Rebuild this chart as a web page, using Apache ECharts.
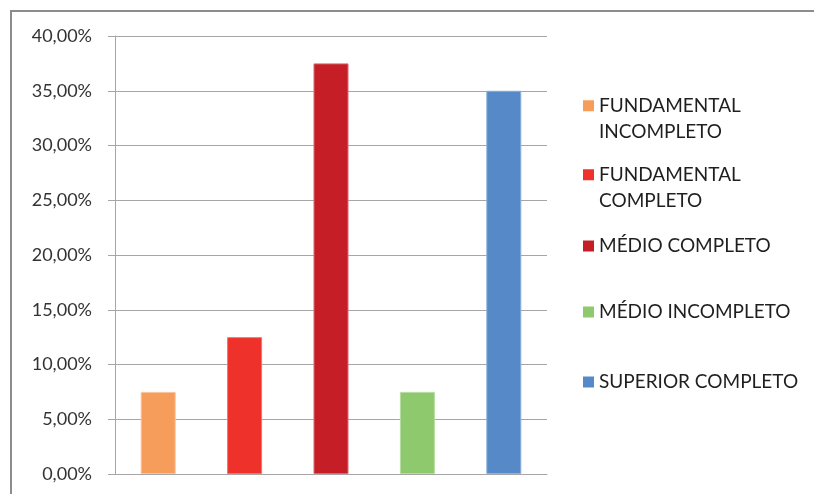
<!DOCTYPE html>
<html>
<head>
<meta charset="utf-8">
<script src="https://cdn.jsdelivr.net/npm/echarts@6/dist/echarts.min.js"></script>
<style>
  html, body { margin: 0; padding: 0; background: #fff; overflow: hidden; }
  #chart { width: 814px; height: 494px; }
</style>
</head>
<body>
<div id="chart"></div>
<script>
// categories / series
const categories = ['FUNDAMENTAL\nINCOMPLETO', 'FUNDAMENTAL\nCOMPLETO', 'MÉDIO COMPLETO', 'MÉDIO INCOMPLETO', 'SUPERIOR COMPLETO'];
const values = [7.5, 12.5, 37.5, 7.5, 35];
const colors = ['#F79D5B', '#EF312B', '#C51E26', '#8FC96E', '#5589C8'];
const borders = ['#FBC39B', '#F4726E', '#DA6A70', '#B7DCA2', '#8FB1DB'];
const legendTops = [88, 157, 228, 294, 364];

const chart = echarts.init(document.getElementById('chart'), undefined, { renderer: 'canvas' });

// square at top of a tall transparent box, so it lines up with the first text line
const topSquare = 'path://M0,0h10v10h-10z M0,34h0.01v0.01h-0.01z';

const series = categories.map((name, i) => ({
  name,
  type: 'bar',
  stack: 'all',
  barWidth: 35,
  itemStyle: { color: colors[i], borderColor: borders[i], borderWidth: 1 },
  data: categories.map((_, j) => (j === i ? values[i] : '-')),
}));

const legends = categories.map((name, i) => {
  const twoLines = name.indexOf('\n') > -1;
  return {
    data: [name],
    left: 578,
    top: legendTops[i],
    orient: 'vertical',
    icon: twoLines ? topSquare : 'rect',
    itemWidth: 11,
    itemHeight: twoLines ? 38 : 11,
    itemGap: 0,
    selectedMode: false,
    itemStyle: { borderWidth: 0 },
    textStyle: {
      fontFamily: 'Lato',
      fontSize: 19,
      color: '#1f1f1f',
      lineHeight: 26,
    },
  };
});

// chart-area frame: only the top and left edges are inside the picture
const frameStyle = { stroke: '#8c8c8c', lineWidth: 2 };

chart.setOption({
  animation: false,
  color: colors,
  graphic: [
    { type: 'line', shape: { x1: 11, y1: 10, x2: 11, y2: 520 }, style: frameStyle },
    { type: 'line', shape: { x1: 10, y1: 11, x2: 900, y2: 11 }, style: frameStyle },
  ],
  legend: legends,
  grid: { left: 115, right: 267, top: 36, bottom: 20 },
  xAxis: {
    type: 'category',
    data: categories,
    axisLine: { lineStyle: { color: '#A6A6A6', width: 1 } },
    axisTick: { show: false },
    axisLabel: { show: false },
  },
  yAxis: {
    type: 'value',
    min: 0,
    max: 40,
    interval: 5,
    axisLine: { show: true, lineStyle: { color: '#A6A6A6', width: 1 } },
    axisTick: { show: true, length: 7, lineStyle: { color: '#A6A6A6' } },
    splitLine: { lineStyle: { color: '#A6A6A6', width: 1 } },
    axisLabel: {
      margin: 23,
      fontFamily: 'Lato',
      fontSize: 18,
      color: '#333333',
      formatter: (v) => v.toFixed(2).replace('.', ',') + '%',
    },
  },
  series,
});
</script>
</body>
</html>
